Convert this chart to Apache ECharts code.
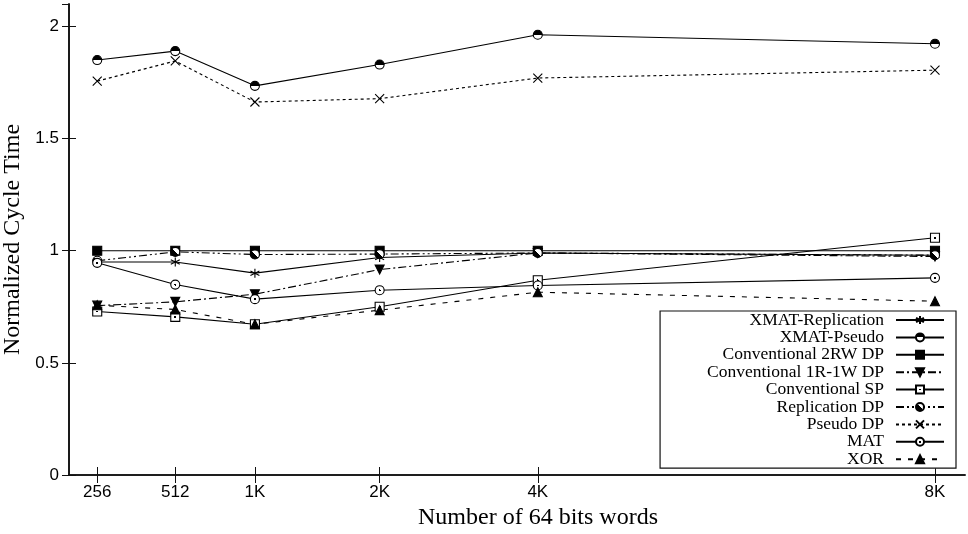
<!DOCTYPE html>
<html>
<head>
<meta charset="utf-8">
<script src="https://cdn.jsdelivr.net/npm/echarts@6/dist/echarts.min.js"></script>
<style>
  html, body { margin: 0; padding: 0; background: #fff; }
  #chart { width: 968px; height: 534px; }
</style>
</head>
<body>
<div id="chart"></div>
<script>
// Memory sizes (number of 64-bit words) and where each sits along the x axis
const wordLabels = ['256', '512', '1K', '2K', '4K', '8K'];
const wordAxisPos = [3.15, 11.86, 20.75, 34.67, 52.32, 96.65];

// Normalized cycle time per design
const xmatReplication = [0.950, 0.950, 0.900, 0.970, 0.990, 0.980];
const xmatPseudo      = [1.850, 1.890, 1.735, 1.830, 1.963, 1.923];
const conv2RW         = [1.000, 1.000, 1.000, 1.000, 1.000, 1.000];
const conv1R1W        = [0.755, 0.772, 0.806, 0.916, 0.990, 0.974];
const convSP          = [0.729, 0.705, 0.672, 0.750, 0.868, 1.058];
const replicationDP   = [0.955, 0.995, 0.983, 0.985, 0.990, 0.980];
const pseudoDP        = [1.756, 1.846, 1.663, 1.678, 1.770, 1.805];
const matValues       = [0.946, 0.849, 0.784, 0.824, 0.845, 0.879];
const xorValues       = [0.757, 0.738, 0.672, 0.735, 0.815, 0.775];

const yTickStep = 0.5;

const INK = '#000';
const halfTop = { type: 'linear', x: 0, y: 0, x2: 0, y2: 1,
  colorStops: [{ offset: 0, color: INK }, { offset: 0.5, color: INK },
               { offset: 0.5, color: '#fff' }, { offset: 1, color: '#fff' }] };
const halfDiag = { type: 'linear', x: 0, y: 1, x2: 1, y2: 0,
  colorStops: [{ offset: 0, color: INK }, { offset: 0.5, color: INK },
               { offset: 0.5, color: '#fff' }, { offset: 1, color: '#fff' }] };
const centerDot = { type: 'radial', x: 0.5, y: 0.5, r: 0.5,
  colorStops: [{ offset: 0, color: INK }, { offset: 0.2, color: INK },
               { offset: 0.2, color: '#fff' }, { offset: 1, color: '#fff' }] };

function makeSeries(name, values, symbol, fill, dash, extra) {
  return Object.assign({
    name: name,
    type: 'line',
    data: values.map((v, i) => [wordAxisPos[i], v]),
    symbol: symbol,
    symbolSize: 9,
    showSymbol: true,
    lineStyle: { color: INK, width: 1.1, type: dash },
    itemStyle: { color: fill, borderColor: INK, borderWidth: 1.1 },
    emphasis: { disabled: true },
    animation: false
  }, extra || {});
}

const series = [
  makeSeries('XMAT-Replication', xmatReplication,
    'path://M0,-10L0,10M-8.66,-5L8.66,5M-8.66,5L8.66,-5', INK, 'solid'),
  makeSeries('XMAT-Pseudo', xmatPseudo, 'circle', halfTop, 'solid'),
  makeSeries('Conventional 2RW DP', conv2RW, 'rect', INK, 'solid'),
  makeSeries('Conventional 1R-1W DP', conv1R1W, 'triangle', INK, [8, 3, 2, 3], { symbolRotate: 180 }),
  makeSeries('Conventional SP', convSP, 'rect', centerDot, 'solid'),
  makeSeries('Replication DP', replicationDP, 'circle', halfDiag, [8, 3, 2, 3, 2, 3]),
  makeSeries('Pseudo DP', pseudoDP, 'path://M-1,-1L1,1M-1,1L1,-1', INK, [3, 3]),
  makeSeries('MAT', matValues, 'circle', centerDot, 'solid'),
  makeSeries('XOR', xorValues, 'triangle', INK, [5, 7])
];

const axisLineStyle = { show: true, lineStyle: { color: '#111', width: 1.6 } };
const tickStyle = { color: '#111', width: 1 };

const chart = echarts.init(document.getElementById('chart'), null, { renderer: 'canvas' });
chart.setOption({
  backgroundColor: '#fff',
  animation: false,
  grid: { left: 69, right: 3, top: 4, bottom: 59, containLabel: false, outerBoundsMode: 'none' },
  xAxis: [
    {
      type: 'value', min: 0, max: 100, position: 'bottom',
      axisLine: axisLineStyle,
      axisTick: { show: true, inside: true, length: 8, customValues: wordAxisPos, lineStyle: tickStyle },
      axisLabel: {
        customValues: wordAxisPos,
        formatter: v => wordLabels[wordAxisPos.indexOf(v)] || '',
        fontFamily: 'Liberation Sans', fontSize: 17, color: INK, margin: 9
      },
      splitLine: { show: false },
      name: 'Number of 64 bits words', nameLocation: 'middle', nameGap: 31,
      nameTextStyle: { fontFamily: 'Liberation Serif', fontSize: 24, color: INK, padding: [0, 0, 0, 42] }
    },
    {
      type: 'value', min: 0, max: 100, position: 'top',
      axisLine: axisLineStyle,
      axisTick: { show: true, inside: true, length: 8, customValues: wordAxisPos, lineStyle: tickStyle },
      axisLabel: { show: false },
      splitLine: { show: false }
    }
  ],
  yAxis: [
    {
      type: 'value', min: 0, max: 2.1, interval: yTickStep, position: 'left',
      axisLine: axisLineStyle,
      axisTick: { show: true, inside: true, length: 7, lineStyle: tickStyle },
      axisLabel: {
        showMaxLabel: false,
        formatter: v => (Math.abs(v / yTickStep - Math.round(v / yTickStep)) < 1e-6 ? String(v) : ''),
        fontFamily: 'Liberation Sans', fontSize: 17, color: INK, margin: 10
      },
      splitLine: { show: false },
      name: 'Normalized Cycle Time', nameLocation: 'middle', nameGap: 37,
      nameTextStyle: { fontFamily: 'Liberation Serif', fontSize: 24, color: INK }
    },
    {
      type: 'value', min: 0, max: 2.1, interval: yTickStep, position: 'right',
      axisLine: axisLineStyle,
      axisTick: { show: true, inside: true, length: 7, lineStyle: tickStyle },
      axisLabel: { show: false },
      splitLine: { show: false }
    }
  ],
  legend: {
    orient: 'vertical',
    right: 12,
    top: 311,
    align: 'right',
    itemWidth: 48,
    itemHeight: 10,
    itemGap: -0.6,
    padding: [0, 11, 0, 47],
    borderColor: '#111',
    borderWidth: 1.2,
    backgroundColor: '#fff',
    selectedMode: false,
    textStyle: { fontFamily: 'Liberation Serif', fontSize: 17.5, lineHeight: 17.2, color: INK, padding: [0, 7, 0, 0] },
    data: series.map(s => s.name)
  },
  series: series
});
</script>
</body>
</html>
